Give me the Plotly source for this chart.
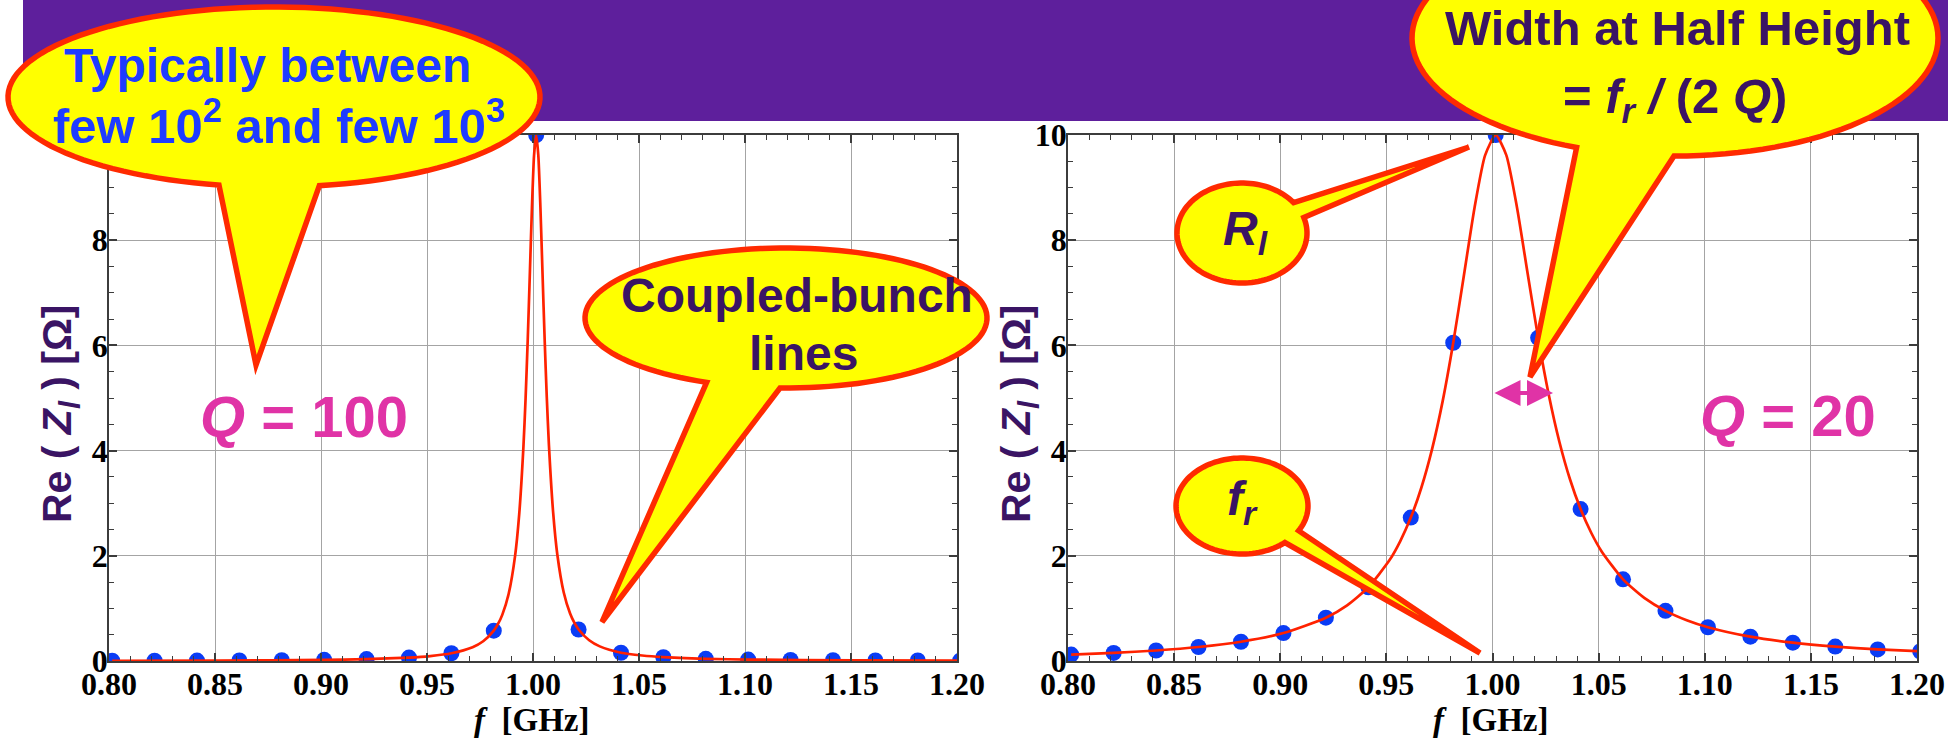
import math
import plotly.graph_objects as go

W, H = 1959, 740

# ---------------- data ----------------
f_dots = [0.8015, 0.8215, 0.8415, 0.8615, 0.8815, 0.9015, 0.9215, 0.9415, 0.9615, 0.9815,
          1.0015, 1.0215, 1.0415, 1.0615, 1.0815, 1.1015, 1.1215, 1.1415, 1.1615, 1.1815, 1.2015]
z_dots_q100 = [0.005, 0.006, 0.008, 0.011, 0.015, 0.022, 0.036, 0.065, 0.148, 0.577,
               10.0, 0.599, 0.157, 0.073, 0.042, 0.027, 0.019, 0.014, 0.011, 0.009, 0.007]
z_dots_q20 = [0.122, 0.154, 0.200, 0.266, 0.366, 0.531, 0.823, 1.402, 2.726, 6.05,
              10.0, 6.144, 2.888, 1.553, 0.953, 0.642, 0.462, 0.349, 0.274, 0.221, 0.183]

f_curve_q100 = [0.8015, 0.8515, 0.9015, 0.9215, 0.9415, 0.9515, 0.9615, 0.9715, 0.9765, 0.9815,
                0.9835, 0.9855, 0.9885, 0.9915, 0.9935, 0.9955, 0.9965, 0.9975, 0.9985, 0.9995,
                1.0005, 1.0015, 1.0025, 1.0035, 1.0045, 1.0055, 1.0065, 1.0075, 1.0095, 1.0115,
                1.0145, 1.0175, 1.0195, 1.0215, 1.0265, 1.0315, 1.0415, 1.0515, 1.0615, 1.0815,
                1.1015, 1.1515, 1.2015]
z_curve_q100 = [0.0049, 0.0094, 0.0223, 0.0357, 0.0648, 0.0940, 0.1477, 0.2623, 0.3753, 0.577,
                0.704, 0.877, 1.274, 1.984, 2.793, 4.084, 4.988, 6.088, 7.347, 8.618,
                9.615, 10.0, 9.616, 8.623, 7.359, 6.107, 5.013, 4.113, 2.825, 2.016,
                1.303, 0.903, 0.728, 0.599, 0.394, 0.278, 0.157, 0.104, 0.073, 0.042,
                0.027, 0.0127, 0.0074]

f_curve_q20 = [0.8015, 0.8215, 0.8415, 0.8615, 0.8815, 0.9015, 0.9215, 0.9315, 0.9415, 0.9515,
               0.9565, 0.9615, 0.9665, 0.9715, 0.9765, 0.9815, 0.9865, 0.9915, 0.9965, 1.0015,
               1.0065, 1.0115, 1.0165, 1.0215, 1.0265, 1.0315, 1.0365, 1.0415, 1.0465, 1.0515,
               1.0615, 1.0715, 1.0815, 1.0915, 1.1015, 1.1215, 1.1415, 1.1615, 1.1815, 1.2015]
z_curve_q20 = [0.122, 0.154, 0.200, 0.266, 0.366, 0.531, 0.823, 1.059, 1.402, 1.918,
               2.276, 2.726, 3.299, 4.024, 4.936, 6.05, 7.323, 8.609, 9.613, 10.0,
               9.617, 8.632, 7.382, 6.144, 5.061, 4.169, 3.455, 2.888, 2.438, 2.078,
               1.553, 1.200, 0.953, 0.775, 0.642, 0.462, 0.349, 0.274, 0.221, 0.183]

x_tick_vals = [0.80, 0.85, 0.90, 0.95, 1.00, 1.05, 1.10, 1.15, 1.20]
x_tick_text = ["0.80", "0.85", "0.90", "0.95", "1.00", "1.05", "1.10", "1.15", "1.20"]
y_tick_vals = [0, 2, 4, 6, 8, 10]
y_tick_text = ["0", "2", "4", "6", "8", "10"]

panel_labels = ["<i>Q</i> = 100", "<i>Q</i> = 20"]

# ---------------- styling ----------------
SANS = "Liberation Sans"
SERIF = "Liberation Serif"
PURPLE_TXT = "#3A1464"
BLUE_TXT = "#1E3CFF"
MAGENTA = "#E033A6"
YELLOW = "#FFFF00"
RED_OUT = "#FF2A00"
BANNER = "#5E1F9C"

def px(x, y):
    return x / W, 1 - y / H

# plot boxes (pixels)
L1, R1 = 109, 957
L2, R2 = 1068, 1917
TOP, BOT = 135, 661

fig = go.Figure()

for i, (zd, fc, zc) in enumerate([(z_dots_q100, f_curve_q100, z_curve_q100),
                                  (z_dots_q20, f_curve_q20, z_curve_q20)]):
    xa = "x" if i == 0 else "x2"
    ya = "y" if i == 0 else "y2"
    fig.add_trace(go.Scatter(x=f_dots, y=zd, mode="markers", xaxis=xa, yaxis=ya,
                             marker=dict(size=16, color="#0A3CF5", line=dict(width=0)),
                             cliponaxis=True, hoverinfo="skip"))
    fig.add_trace(go.Scatter(x=fc, y=zc, mode="lines", xaxis=xa, yaxis=ya,
                             line=dict(color="#FF2200", width=2.7, shape="spline", smoothing=0.6),
                             cliponaxis=True, hoverinfo="skip"))

axis_common = dict(
    automargin=False,
    showline=True, linecolor="#3C3C3C", linewidth=1.5, mirror="ticks",
    ticks="inside", ticklen=8, tickwidth=1.5, tickcolor="#3C3C3C",
    showgrid=True, gridcolor="#A4A4A4", gridwidth=1.2, zeroline=False,
    tickfont=dict(family=SERIF, size=32, color="black", weight="bold"),
)

xdef = dict(axis_common, range=[0.8, 1.2], tickmode="array", tickvals=x_tick_vals, ticktext=x_tick_text,
            ticklabelstandoff=-6,
            minor=dict(dtick=0.01, tick0=0.8, ticks="inside", ticklen=5, tickwidth=1.2, tickcolor="#3C3C3C", showgrid=False))
ydef = dict(axis_common, range=[0, 10], tickmode="array", tickvals=y_tick_vals, ticktext=y_tick_text,
            ticklabelstandoff=-7,
            minor=dict(dtick=0.5, tick0=0, ticks="inside", ticklen=5, tickwidth=1.2, tickcolor="#3C3C3C", showgrid=False))

ydom = [(H - BOT) / H, (H - TOP) / H]
fig.update_layout(
    width=W, height=H, margin=dict(l=0, r=0, t=0, b=0, pad=0, autoexpand=False),
    paper_bgcolor="white", plot_bgcolor="white", showlegend=False, hovermode=False,
    xaxis=dict(xdef, domain=[L1 / W, R1 / W], anchor="y"),
    yaxis=dict(ydef, domain=ydom, anchor="x"),
    xaxis2=dict(xdef, domain=[L2 / W, R2 / W], anchor="y2"),
    yaxis2=dict(ydef, domain=ydom, anchor="x2"),
)

shapes = []
# banner
bx0, by0 = px(23, 0)
bx1, by1 = px(1948, 121)
shapes.append(dict(type="rect", xref="paper", yref="paper", x0=bx0, x1=bx1, y0=by1, y1=by0,
                   fillcolor=BANNER, line=dict(width=0), layer="below"))


def bubble(cx, cy, rx, ry, b1, b2, tip, n=120):
    a1 = math.atan2((b1[1] - cy) / ry, (b1[0] - cx) / rx)
    a2 = math.atan2((b2[1] - cy) / ry, (b2[0] - cx) / rx)
    d = (a2 - a1) % (2 * math.pi)
    if d < math.pi:
        span = -(2 * math.pi - d)
    else:
        span = d
    pts = [tip]
    for k in range(n + 1):
        t = a1 + span * k / n
        pts.append((cx + rx * math.cos(t), cy + ry * math.sin(t)))
    parts = []
    for j, (x, y) in enumerate(pts):
        X, Y = px(x, y)
        parts.append(("M" if j == 0 else "L") + f"{X:.5f},{Y:.5f}")
    return dict(type="path", xref="paper", yref="paper", path=" ".join(parts) + " Z",
                fillcolor=YELLOW, line=dict(color=RED_OUT, width=5.5), layer="above")

shapes.append(bubble(274, 97, 266, 90, (219, 185), (319, 185), (256, 365)))
shapes.append(bubble(786, 318, 201, 70, (707, 382), (780, 388), (602, 622)))
shapes.append(bubble(1675, 38, 263, 118, (1577, 147), (1674, 156), (1530, 377)))
shapes.append(bubble(1242, 233, 65, 50, (1293, 203), (1302, 218), (1469, 147)))
shapes.append(bubble(1242, 506, 66, 48, (1297, 530), (1283, 541), (1480, 653)))
fig.update_layout(shapes=shapes)

ann = []

def text(x, y, s, size, color, family=SANS, angle=0):
    X, Y = px(x, y)
    ann.append(dict(xref="paper", yref="paper", x=X, y=Y, text=s, showarrow=False,
                    xanchor="center", yanchor="middle", textangle=angle,
                    font=dict(family=family, size=size, color=color, weight="bold")))

# bubble texts
text(267, 66, "Typically between", 48, BLUE_TXT)
text(279, 122, "few 10<sup>2</sup> and few 10<sup>3</sup>", 49, BLUE_TXT)
text(797, 295, "Coupled-bunch", 48, PURPLE_TXT)
text(803, 353, "lines", 48, PURPLE_TXT)
text(1677, 28, "Width at Half Height", 49, PURPLE_TXT)
text(1675, 100, "= <i>f<sub>r</sub></i> <i>/</i> (2 <i>Q</i>)", 49, PURPLE_TXT)
text(1245, 232, "<i>R<sub>l</sub></i>", 48, PURPLE_TXT)
text(1242, 502, "<i>f<sub>r</sub></i>", 48, PURPLE_TXT)

# panel labels
text(304, 416, panel_labels[0], 58, MAGENTA)
text(1788, 415, panel_labels[1], 58, MAGENTA)

# axis titles
for (l, r) in [(L1, R1), (L2, R2)]:
    text((l + r) / 2 - 2, 720, "<i>f</i>  [GHz]", 33, "black", family=SERIF)
    text(l - 49, 414, "Re ( <i>Z<sub>l</sub></i> ) [Ω]", 41, PURPLE_TXT, angle=-90)

# magenta double arrow
hx, hy = px(1553, 393)
ann.append(dict(xref="paper", yref="paper", x=hx, y=hy, axref="pixel", ayref="pixel", ax=-60, ay=0,
                text="", showarrow=True, arrowhead=2, startarrowhead=2, arrowside="end+start",
                arrowsize=1.3, startarrowsize=1.3, arrowwidth=4, arrowcolor=MAGENTA,
                standoff=0, startstandoff=0))

fig.update_layout(annotations=ann)

fig.write_html("out.html")
